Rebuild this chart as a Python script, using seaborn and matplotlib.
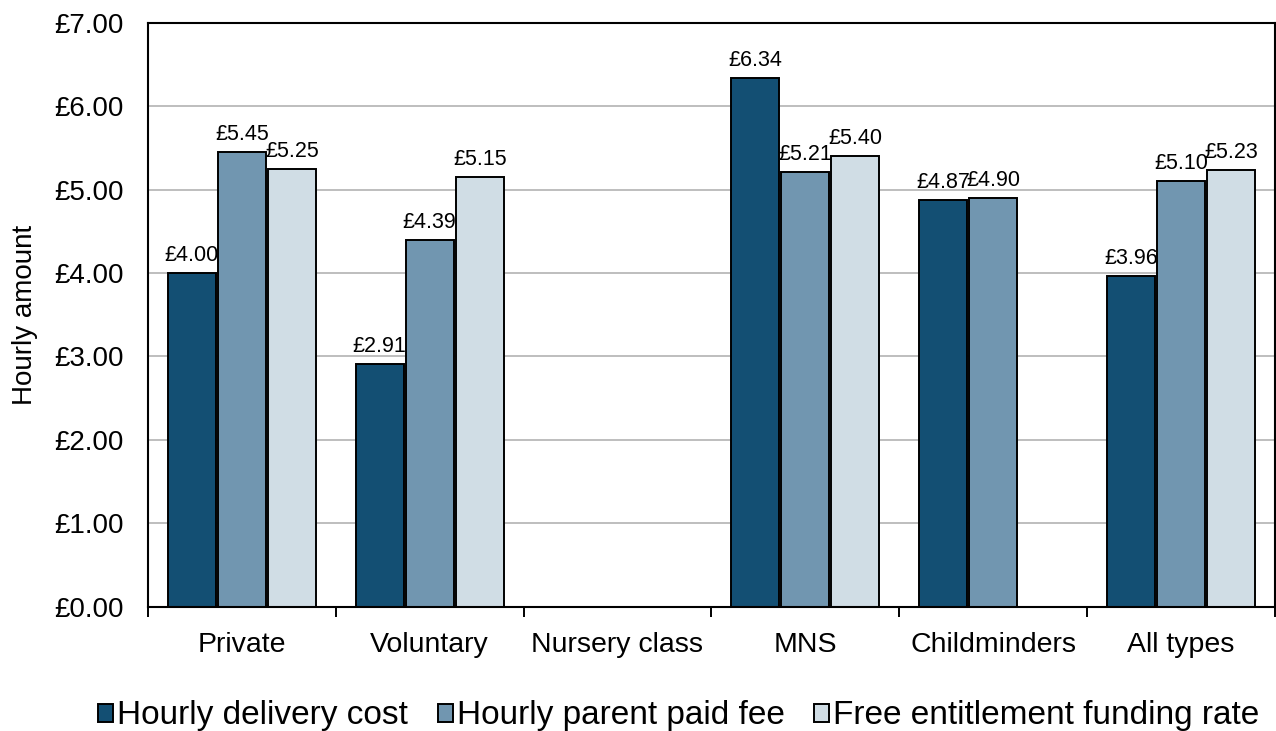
import matplotlib
matplotlib.use("Agg")
import matplotlib.pyplot as plt
import numpy as np
import pandas as pd
import seaborn as sns

# Provider types along the x axis
categories = ["Private", "Voluntary", "Nursery class", "MNS", "Childminders", "All types"]

# Hourly amounts (£) per provider type; NaN = not reported
delivery_cost = [4.00, 2.91, np.nan, 6.34, 4.87, 3.96]
parent_fee = [5.45, 4.39, np.nan, 5.21, 4.90, 5.10]
funding_rate = [5.25, 5.15, np.nan, 5.40, np.nan, 5.23]

series_names = ["Hourly delivery cost", "Hourly parent paid fee", "Free entitlement funding rate"]
series_colors = ["#134F73", "#7196B0", "#D0DDE5"]

y_ticks = [0, 1, 2, 3, 4, 5, 6, 7]

sns.set_theme(style="white")
plt.rcParams["font.family"] = ["Liberation Sans", "DejaVu Sans"]
plt.rcParams["text.color"] = "black"
plt.rcParams["xtick.color"] = "black"
plt.rcParams["ytick.color"] = "black"
plt.rcParams["axes.labelcolor"] = "black"

df = pd.DataFrame({
    "type": categories * 3,
    "series": [s for s in series_names for _ in categories],
    "value": delivery_cost + parent_fee + funding_rate,
}).dropna()

fig = plt.figure(figsize=(12.76, 7.31), dpi=100)
ax = fig.add_axes([0.116, 0.17, 0.883, 0.799])

sns.barplot(
    data=df, x="type", y="value", hue="series",
    order=categories, hue_order=series_names,
    palette=series_colors, saturation=1, width=0.8, gap=0.04,
    edgecolor="black", linewidth=1.4, errorbar=None, ax=ax,
)

for container in ax.containers:
    ax.bar_label(container, fmt="£{:.2f}", padding=5, fontsize=15.5, color="black")

ax.set_ylim(0, 7)
ax.set_yticks(y_ticks)
ax.set_yticklabels([f"£{t:.2f}" for t in y_ticks], fontsize=20)
ax.yaxis.grid(True, color="#B3B3B3", linewidth=1.2)
ax.set_axisbelow(True)
ax.tick_params(axis="y", length=0, pad=17.5)

ax.set_xlim(-0.5, len(categories) - 0.5)
ax.set_xticks(np.arange(len(categories)))
ax.set_xticklabels(categories, fontsize=20.5)
ax.set_xticks(np.arange(len(categories) + 1) - 0.5, minor=True)
ax.tick_params(axis="x", which="major", length=0, pad=18)
ax.tick_params(axis="x", which="minor", length=7, width=1.4, color="black", direction="out", bottom=True)

ax.set_xlabel("")
ax.set_ylabel("Hourly amount", fontsize=20, labelpad=12)

for side in ["left", "bottom", "right", "top"]:
    ax.spines[side].set_visible(True)
    ax.spines[side].set_color("black")
    ax.spines[side].set_linewidth(1.5)

handles, labels = ax.get_legend_handles_labels()
ax.legend(
    handles, labels, loc="center", bbox_to_anchor=(0.471, -0.187),
    ncol=3, frameon=False, fontsize=24, handlelength=0.45, handleheight=0.45,
    handletextpad=0.12, columnspacing=0.9,
)

fig.savefig("out.png", dpi=100)
